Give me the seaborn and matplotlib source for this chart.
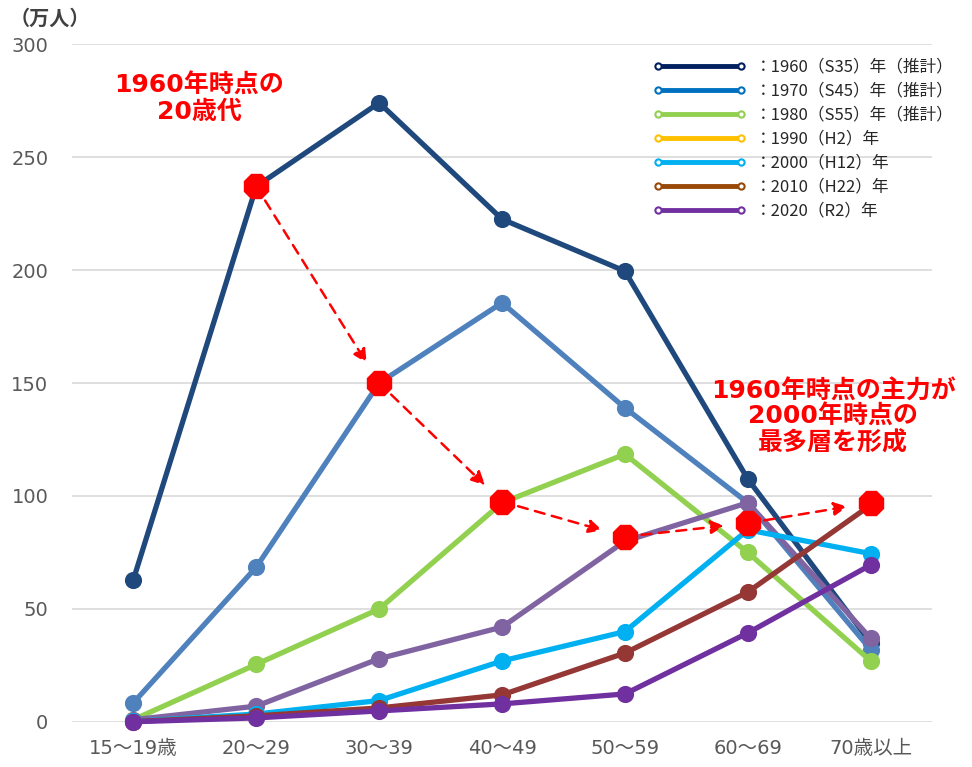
import seaborn as sns
import matplotlib.pyplot as plt
from matplotlib.lines import Line2D
import pandas as pd

ages = ['15～19歳', '20～29', '30～39', '40～49', '50～59', '60～69', '70歳以上']
years = ['1960', '1970', '1980', '1990', '2000', '2010', '2020']
legend_labels = ['：1960（S35）年（推計）', '：1970（S45）年（推計）', '：1980（S55）年（推計）',
                 '：1990（H2）年', '：2000（H12）年', '：2010（H22）年', '：2020（R2）年']

v1960 = [63, 237, 274, 222.5, 199.5, 107.5, 35]
v1970 = [8.5, 68.5, 150, 185.5, 139, 97, 32]
v1980 = [1, 25.5, 50, 97, 118.5, 75, 27]
v1990 = [1, 7, 28, 42, 80, 97, 37]
v2000 = [0.3, 3.5, 9.5, 27, 40, 85, 74.5]
v2010 = [0.2, 2.7, 6.2, 12, 30.5, 57.5, 96]
v2020 = [0.1, 1.8, 4.9, 8, 12.4, 39.4, 69.5]
series = [v1960, v1970, v1980, v1990, v2000, v2010, v2020]

line_colors = ['#1F497D', '#4F81BD', '#92D050', '#8064A2', '#00B0F0', '#953735', '#7030A0']
legend_colors = ['#002060', '#0070C0', '#92D050', '#FFC000', '#00B0F0', '#984807', '#7030A0']

# 1960 cohort path
cohort_ages = ['20～29', '30～39', '40～49', '50～59', '60～69', '70歳以上']
cohort_vals = [237, 150, 97.5, 82, 88, 97]

rows = []
for yr, vals in zip(years, series):
    for a, v in zip(ages, vals):
        rows.append({'age': a, 'value': v, 'year': yr})
df = pd.DataFrame(rows)

sns.set_theme(style='white')
plt.rcParams['font.family'] = ['Noto Sans CJK JP', 'DejaVu Sans']
wide = ['DejaVu Sans', 'Noto Sans CJK JP']

fig = plt.figure(figsize=(9.72, 7.67), dpi=100)
ax = fig.add_axes([0.074, 0.0587, 0.885, 0.8839])

sns.pointplot(data=df, x='age', y='value', hue='year', order=ages, hue_order=years,
              palette=line_colors, markers='o', linestyles='-', errorbar=None,
              linewidth=3.8, markersize=9.5, legend=False, ax=ax)
for coll in ax.collections:
    coll.set_clip_on(False)
for ln in ax.lines:
    ln.set_clip_on(False)

cx = [ages.index(a) for a in cohort_ages]
ax.plot(cx, cohort_vals, linestyle='none', marker='8', markersize=18,
        color='#FF0000', zorder=10, clip_on=False)
for i in range(len(cx) - 1):
    ax.annotate('', xy=(cx[i + 1], cohort_vals[i + 1]), xytext=(cx[i], cohort_vals[i]),
                arrowprops=dict(arrowstyle='-|>', color='#FF0000', lw=1.8,
                                linestyle=(0, (4, 3)), mutation_scale=20,
                                shrinkA=12, shrinkB=17), zorder=9)

ax.set_xlim(-0.5, 6.5)
ax.set_ylim(0, 300)
ax.set_yticks(range(0, 301, 50))
ax.grid(axis='y', color='#D9D9D9', linewidth=1.2)
ax.set_axisbelow(True)
for s in ax.spines.values():
    s.set_visible(False)
ax.tick_params(axis='both', length=0, labelsize=14, labelcolor='#595959')
ax.tick_params(axis='y', pad=17)
ax.tick_params(axis='x', pad=12)
for lab in ax.get_xticklabels() + ax.get_yticklabels():
    lab.set_family(wide)
ax.set_xlabel('')
ax.set_ylabel('')

fig.text(0.010, 0.976, '（万人）', fontsize=14.5, fontweight='bold', color='#404040',
         va='center', ha='left')

fig.text(0.205, 0.871, '1960年時点の\n20歳代', fontsize=18, fontweight='bold',
         color='#FF0000', ha='center', va='center', linespacing=1.12, family=wide)
fig.text(0.857, 0.456, '1960年時点の主力が\n2000年時点の\n最多層を形成', fontsize=18,
         fontweight='bold', color='#FF0000', ha='center', va='center', linespacing=1.08,
         family=wide)

handles = [Line2D([0], [0], color=c, lw=3.5, marker='o', markersize=4.5,
                  markerfacecolor='white', markeredgecolor=c, markeredgewidth=1.5)
           for c in legend_colors]
fig.legend(handles, legend_labels, loc='upper left', bbox_to_anchor=(0.665, 0.932),
           frameon=False, numpoints=2, handlelength=5.6, fontsize=12,
           labelspacing=0.42, handletextpad=0.5, borderaxespad=0)

fig.savefig('out.png', dpi=100)
